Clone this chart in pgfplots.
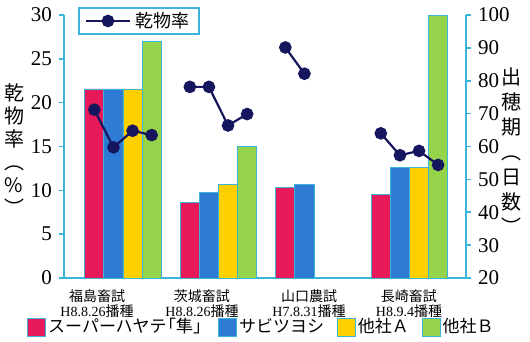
\documentclass[border=0pt]{standalone}
\usepackage{pgfplots}
\pgfplotsset{compat=1.18}
\usepackage{fontspec}
\setmainfont{Liberation Serif}
\newfontfamily\jp{Noto Sans CJK JP}
\definecolor{axcyan}{HTML}{3AB4D8}
\definecolor{cred}{HTML}{E8195A}
\definecolor{cblue}{HTML}{2E7BD6}
\definecolor{cyel}{HTML}{FFD000}
\definecolor{cgreen}{HTML}{95D34A}
\definecolor{navy}{HTML}{16165E}
\pgfplotsset{
  mybar/.style={ybar, bar shift=0pt, bar width=0.202, draw=axcyan, line width=0.4pt,
    legend image code/.code={\draw[##1] (0pt,-4.5pt) rectangle (9pt,4.5pt);}},
  common/.style={at={(0,0)}, anchor=south west, scale only axis, width=201pt, height=131.5pt,
    xmin=-0.618, xmax=3.592, axis line style={axcyan, line width=0.8pt, -},
    tick style={axcyan, line width=0.8pt}, tick align=outside, major tick length=2.5pt,
    /pgf/number format/assume math mode=true,
    yticklabel style={font=\fontsize{10.5}{12}\selectfont},
    clip=false}
}
\begin{document}
\begin{tikzpicture}
\begin{axis}[common,
  ymin=20, ymax=100, ytick={20,30,...,100},
  axis y line*=right, axis x line*=bottom,
  xtick={-0.272,0.827,1.948,2.995},
  xtick style={draw=none},
  xticklabels={{{\jp 福島畜試}\\H8.8.26{\jp 播種}},{{\jp 茨城畜試}\\H8.8.26{\jp 播種}},{{\jp 山口農試}\\H7.8.31{\jp 播種}},{{\jp 長崎畜試}\\H8.9.4{\jp 播種}}},
  xticklabel style={align=center, font=\fontsize{7}{7.5}\selectfont},
  ylabel={出\\穂\\期\\︵\\日\\数\\︶},
  ylabel style={at={(axis description cs:1.114,0.483)}, anchor=center, rotate=-90, align=center, font=\jp\fontsize{10}{12.5}\selectfont},
  legend style={at={(-0.092,-0.186)}, anchor=west, draw=none, fill=none, inner sep=0pt,
    font=\jp\fontsize{8.5}{10}\selectfont, legend columns=-1, column sep=0pt,
    nodes={inner xsep=1pt, inner ysep=0pt},
    legend cell align=left},
]
\addplot[mybar, fill=cred] coordinates {(-0.3,77.5) (0.7,43) (1.7,47.5) (2.7,45.5)};
\addlegendentry{\makebox[84pt][l]{スーパーハヤテ\makebox[0.55em][r]{「}隼\makebox[0.55em][l]{」}}}
\addplot[mybar, fill=cblue] coordinates {(-0.1,77.5) (0.9,46) (1.9,48.5) (2.9,53.5)};
\addlegendentry{\makebox[48pt][l]{サビツヨシ}}
\addplot[mybar, fill=cyel] coordinates {(0.1,77.5) (1.1,48.5) (3.1,53.5)};
\addlegendentry{\makebox[31pt][l]{他社Ａ}}
\addplot[mybar, fill=cgreen] coordinates {(0.3,92) (1.3,60) (3.3,100)};
\addlegendentry{他社Ｂ}
\end{axis}
\begin{axis}[common,
  ymin=0, ymax=30, ytick={0,5,...,30},
  axis y line*=left, axis x line=none,
  ylabel={乾\\物\\率\\︵\\\%\\︶},
  ylabel style={at={(axis description cs:-0.124,0.487)}, anchor=center, rotate=-90, align=center, font=\jp\fontsize{10}{11.5}\selectfont},
  legend style={at={(0.035,1.03)}, anchor=north west, draw=axcyan, line width=0.8pt, fill=white,
    font=\jp\fontsize{9}{10}\selectfont, inner xsep=3pt, inner ysep=0.5pt,
    nodes={inner ysep=1.5pt}},
  legend image code/.code={\draw[#1, mark repeat=2, mark phase=2] plot coordinates {(0pt,0pt) (11pt,0pt) (22pt,0pt)};},
]
\addplot[navy, line width=1.1pt, mark=*, mark size=2.6pt, unbounded coords=jump] table {
x y
-0.3 19.2
-0.1 14.9
0.1 16.8
0.3 16.3
0.5 nan
0.7 21.8
0.9 21.8
1.1 17.4
1.3 18.7
1.5 nan
1.7 26.3
1.9 23.3
2.5 nan
2.7 16.5
2.9 14.0
3.1 14.5
3.3 12.9
};
\addlegendentry{乾物率}
\end{axis}
\pgfresetboundingbox
\useasboundingbox (-32pt,-32pt) rectangle (233pt,139pt);
\end{tikzpicture}
\end{document}
